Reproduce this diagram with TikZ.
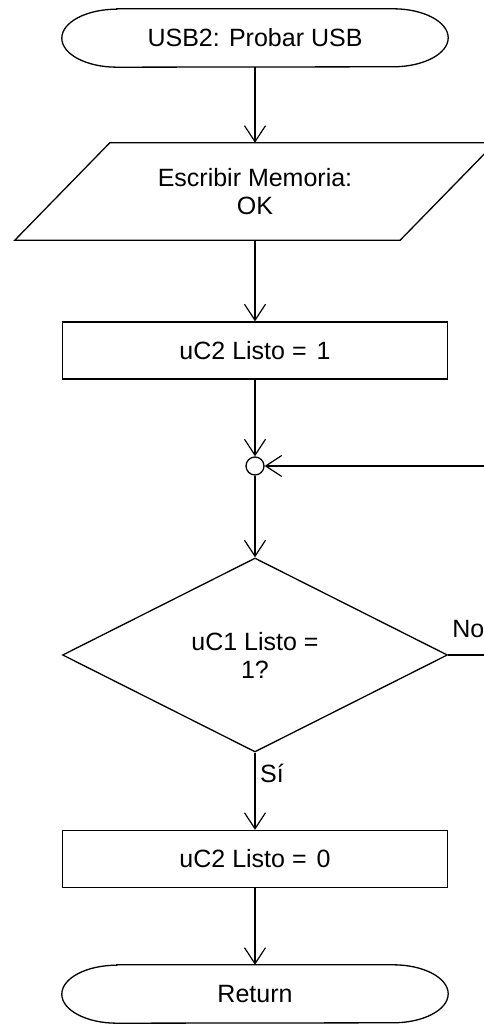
\documentclass[tikz,border=0pt]{standalone}
\usepackage{fontspec}
\setmainfont{Liberation Sans}
\usepackage{tikz}
\usetikzlibrary{calc,arrows.meta,shapes.geometric}

\newcommand{\termline}[1]{%
  \draw[outline] ([xshift=55pt]#1.north west) -- ([xshift=-55pt]#1.north east)
    arc[start angle=90,end angle=-90,x radius=55pt,y radius=29pt]
    -- ([xshift=55pt]#1.south west)
    arc[start angle=270,end angle=90,x radius=55pt,y radius=29pt] -- cycle;}

\begin{document}
\begin{tikzpicture}[x=1pt,y=1pt,
    font=\fontsize{25}{28}\selectfont,
    outline/.style={draw=black,line width=1.3pt},
    flow/.style={draw=black,line width=1.2pt,-{Straight Barb[length=16pt,width=21pt,line width=1.2pt]}},
    term/.style={minimum width=386pt,minimum height=58pt,inner sep=0pt},
    procbox/.style={outline,minimum width=385pt,minimum height=57pt,inner sep=0pt},
    iobox/.style={minimum width=385pt,minimum height=97pt,inner sep=0pt,align=center},
    decbox/.style={outline,diamond,minimum width=385pt,minimum height=194pt,inner sep=0pt,align=center},
    junction/.style={outline,circle,minimum size=18pt,inner sep=0pt}]
  \useasboundingbox (0,0) rectangle (484,1025);
  % nodes
  \node[term] (start) at (255,987) {USB2: Probar USB};
  \termline{start}
  \node[iobox] (io) at (255,833.5) {Escribir Memoria:\\OK};
  \draw[outline] ($(io.north west)+(47.5,0)$) -- ($(io.north east)+(47.5,0)$)
    -- ($(io.south east)+(-47.5,0)$) -- ($(io.south west)+(-47.5,0)$) -- cycle;
  \node[procbox] (set1) at (255,674.5) {uC2 Listo =\kern3pt{} 1};
  \node[junction] (junc) at (255,559) {};
  \node[decbox] (dec) at (255,370) {uC1 Listo =\\1?};
  \node[procbox] (set0) at (255,166) {uC2 Listo =\kern3pt{} 0};
  \node[term] (ret) at (255,31) {Return};
  \termline{ret}
  % labels
  \node[anchor=west,inner sep=0pt] (nolbl) at ($(dec.east)+(4,26)$) {No};
  \node[anchor=west,inner sep=0pt] (silbl) at ($(dec.south)+(5,-21)$) {Sí};
  \coordinate (loop) at (505,559);
  % connectors
  \draw[flow] (start) -- (io);
  \draw[flow] (io) -- (set1);
  \draw[flow] (set1) -- (junc);
  \draw[flow] (junc) -- (dec);
  \draw[flow] (dec) -- (set0);
  \draw[flow] (set0) -- (ret);
  \draw[flow] (dec.east) -| (loop) -- (junc);
\end{tikzpicture}
\end{document}
